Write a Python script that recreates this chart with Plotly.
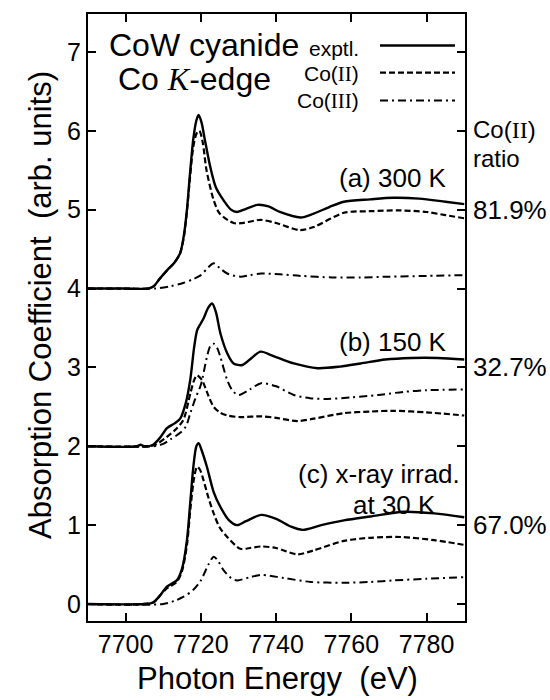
import plotly.graph_objects as go

# ---------------- data ----------------
# x: photon energy (eV); y: absorption coefficient (arb. units, offset per panel)

# (a) 300 K
a_expt_E = [7690, 7700, 7706, 7707.5, 7709, 7711, 7713, 7714.5, 7715.5, 7716.3, 7717.1, 7718, 7718.8, 7719.4, 7720.2, 7721, 7722.5, 7724, 7726, 7728, 7729.6, 7732, 7735, 7738, 7741, 7746.5, 7750, 7754, 7758, 7765, 7771, 7778, 7785, 7790]
a_expt_V = [4.0, 4.0, 4.0, 4.03, 4.12, 4.23, 4.33, 4.45, 4.68, 5.0, 5.45, 5.9, 6.13, 6.2, 6.1, 5.9, 5.54, 5.28, 5.12, 5.0, 4.97, 5.01, 5.06, 5.04, 4.97, 4.90, 4.95, 5.03, 5.10, 5.13, 5.15, 5.14, 5.10, 5.07]
a_co2_E = [7690, 7700, 7706, 7707.5, 7709, 7711, 7713, 7714.5, 7715.5, 7716.3, 7717.1, 7718, 7718.9, 7719.6, 7720.5, 7721.5, 7723.4, 7725, 7728.7, 7731, 7735.9, 7740, 7746.3, 7750, 7758, 7765, 7773, 7780, 7785, 7790]
a_co2_V = [4.0, 4.0, 4.0, 4.03, 4.12, 4.23, 4.33, 4.45, 4.66, 4.98, 5.4, 5.8, 5.97, 6.0, 5.85, 5.5, 5.12, 4.95, 4.83, 4.83, 4.87, 4.83, 4.74, 4.78, 4.96, 4.98, 4.99, 4.97, 4.93, 4.89]
a_co3_E = [7690, 7708, 7712, 7715.3, 7718, 7720, 7722, 7723.4, 7725, 7727, 7730.5, 7733, 7736, 7741, 7746.5, 7755, 7762.5, 7770, 7780, 7790]
a_co3_V = [4.0, 4.0, 4.03, 4.07, 4.12, 4.17, 4.27, 4.32, 4.26, 4.19, 4.15, 4.17, 4.19, 4.18, 4.16, 4.14, 4.14, 4.15, 4.16, 4.17]

# (b) 150 K
b_expt_E = [7690, 7703, 7704, 7705, 7707.3, 7709, 7711, 7713, 7714.5, 7716, 7717.2, 7718.2, 7719, 7720, 7720.7, 7722, 7723, 7724, 7725.2, 7727, 7728.7, 7731, 7733.5, 7735.9, 7739, 7744.7, 7751, 7757, 7762.5, 7769, 7776, 7783, 7790]
b_expt_V = [2.0, 2.0, 2.02, 2.0, 2.02, 2.1, 2.23, 2.29, 2.35, 2.55, 2.85, 3.25, 3.47, 3.56, 3.62, 3.76, 3.81, 3.7, 3.43, 3.18, 3.05, 3.03, 3.12, 3.20, 3.15, 3.05, 2.99, 3.01, 3.05, 3.10, 3.12, 3.12, 3.10]
b_co2_E = [7690, 7707.3, 7709, 7711, 7713, 7715.3, 7717.2, 7718.3, 7719, 7720, 7720.7, 7722, 7723.4, 7725, 7727, 7730.5, 7736, 7740, 7745.6, 7750, 7758, 7765, 7771, 7780, 7790]
b_co2_V = [2.0, 2.01, 2.05, 2.12, 2.2, 2.33, 2.67, 2.85, 2.90, 2.86, 2.80, 2.64, 2.50, 2.43, 2.39, 2.37, 2.38, 2.36, 2.32, 2.35, 2.42, 2.44, 2.45, 2.43, 2.39]
b_co3_E = [7690, 7707.3, 7710, 7712, 7714.5, 7716, 7717.2, 7718.5, 7720, 7721.6, 7722.5, 7723.4, 7724.3, 7725.2, 7727, 7728.5, 7730, 7733, 7736, 7740, 7744.7, 7749, 7753.6, 7760, 7767, 7774, 7780, 7790]
b_co3_V = [2.0, 2.0, 2.03, 2.09, 2.17, 2.25, 2.42, 2.6, 2.78, 3.13, 3.27, 3.30, 3.25, 3.13, 2.84, 2.70, 2.65, 2.72, 2.80, 2.76, 2.65, 2.61, 2.60, 2.62, 2.65, 2.69, 2.71, 2.72]

# (c) x-ray irradiated at 30 K
c_expt_E = [7690, 7705, 7707.3, 7709, 7711, 7713.6, 7715, 7716.3, 7717.2, 7718, 7718.8, 7719.4, 7720.2, 7721.6, 7723.4, 7725.2, 7727.5, 7729.6, 7732, 7736, 7740, 7744, 7747, 7752, 7758, 7765, 7774, 7782, 7790]
c_expt_V = [0.0, 0.0, 0.02, 0.1, 0.22, 0.30, 0.45, 0.81, 1.3, 1.74, 2.0, 2.04, 1.95, 1.74, 1.42, 1.23, 1.06, 1.00, 1.05, 1.13, 1.08, 0.98, 0.94, 1.0, 1.06, 1.11, 1.17, 1.15, 1.10]
c_co2_E = [7690, 7707.3, 7709, 7711, 7713.6, 7715, 7716.3, 7717.2, 7718.2, 7719, 7719.8, 7720.7, 7722, 7723.4, 7725, 7727, 7730.5, 7733, 7736, 7740, 7745.6, 7750, 7758, 7765, 7773, 7782, 7790]
c_co2_V = [0.0, 0.02, 0.1, 0.2, 0.28, 0.42, 0.75, 1.2, 1.6, 1.74, 1.7, 1.57, 1.35, 1.15, 0.97, 0.85, 0.70, 0.71, 0.73, 0.71, 0.63, 0.68, 0.80, 0.84, 0.85, 0.81, 0.75]
c_co3_E = [7690, 7710, 7713, 7715.3, 7718, 7720, 7722, 7723.4, 7724.5, 7726, 7728, 7729.6, 7733, 7736, 7742, 7749.2, 7758, 7765, 7771.3, 7780, 7790]
c_co3_V = [0.0, 0.0, 0.04, 0.09, 0.18, 0.30, 0.50, 0.60, 0.55, 0.43, 0.33, 0.30, 0.34, 0.37, 0.33, 0.28, 0.27, 0.28, 0.30, 0.32, 0.34]

x_ticks = [7700, 7720, 7740, 7760, 7780]
y_ticks = [0, 1, 2, 3, 4, 5, 6, 7]

panel_labels = ["(a) 300 K", "(b) 150 K", "(c) x-ray irrad.", "at 30 K"]
panel_label_x = [7786, 7786, 7789.5, 7783]
panel_label_y = [5.4, 3.32, 1.65, 1.25]

ratio_labels = ["81.9%", "32.7%", "67.0%"]
ratio_y = [5.0, 3.0, 1.0]

# ---------------- styling ----------------
SANS = "Liberation Sans, Arial, Helvetica, sans-serif"
BLACK = "#000000"
SOLID = dict(color=BLACK, width=2.4, dash="solid")
DASH = dict(color=BLACK, width=2.2, dash="6px,3px")
DASHDOT = dict(color=BLACK, width=2.0, dash="8px,4px,2px,4px")

fig = go.Figure()

curves = [
    (a_expt_E, a_expt_V, SOLID), (a_co2_E, a_co2_V, DASH), (a_co3_E, a_co3_V, DASHDOT),
    (b_expt_E, b_expt_V, SOLID), (b_co2_E, b_co2_V, DASH), (b_co3_E, b_co3_V, DASHDOT),
    (c_expt_E, c_expt_V, SOLID), (c_co2_E, c_co2_V, DASH), (c_co3_E, c_co3_V, DASHDOT),
]
for E, V, ln in curves:
    fig.add_trace(go.Scatter(x=E, y=V, mode="lines",
                             line=dict(ln, shape="spline", smoothing=0.8),
                             showlegend=False, hoverinfo="skip"))

axis_common = dict(
    showline=True, linecolor=BLACK, linewidth=2, mirror="ticks",
    ticks="inside", ticklen=8, tickwidth=1.5, tickcolor=BLACK,
    showgrid=False, zeroline=False,
    tickfont=dict(family=SANS, size=25, color=BLACK),
)

fig.update_xaxes(range=[7690, 7790.2], tickvals=x_ticks, **axis_common)
fig.update_yaxes(range=[-0.215, 7.48], tickvals=y_ticks, **axis_common)

PW = 377.0  # plot width px
PH = 607.0  # plot height px
def px(xp):
    return (xp - 88) / PW
def py(yp):
    return (621 - yp) / PH

ann = []
# axis titles
ann.append(dict(text="Photon Energy  (eV)", xref="paper", yref="paper",
                x=px(277), y=py(678), xanchor="center", yanchor="middle",
                showarrow=False, font=dict(family=SANS, size=31, color=BLACK)))
ann.append(dict(text="Absorption Coefficient  (arb. units)", xref="paper", yref="paper",
                x=px(40), y=py(305), xanchor="center", yanchor="middle", textangle=-90,
                showarrow=False, font=dict(family=SANS, size=31, color=BLACK)))

# legend block
roman = lambda s: '<span style="font-family:Liberation Serif, Times New Roman, serif">' + s + '</span>'
ann.append(dict(text="CoW cyanide", xref="paper", yref="paper", x=px(107), y=py(45),
                xanchor="left", yanchor="middle", showarrow=False,
                font=dict(family=SANS, size=32, color=BLACK)))
ann.append(dict(text="Co " + '<span style="font-family:Liberation Serif, Times New Roman, serif"><i>K</i></span>' + "-edge",
                xref="paper", yref="paper", x=px(116), y=py(79),
                xanchor="left", yanchor="middle", showarrow=False,
                font=dict(family=SANS, size=32, color=BLACK)))
ann.append(dict(text="exptl.", xref="paper", yref="paper", x=px(361), y=py(48),
                xanchor="right", yanchor="middle", showarrow=False,
                font=dict(family=SANS, size=21, color=BLACK)))
ann.append(dict(text="Co(" + roman("II") + ")", xref="paper", yref="paper", x=px(361), y=py(74),
                xanchor="right", yanchor="middle", showarrow=False,
                font=dict(family=SANS, size=21, color=BLACK)))
ann.append(dict(text="Co(" + roman("III") + ")", xref="paper", yref="paper", x=px(361), y=py(101),
                xanchor="right", yanchor="middle", showarrow=False,
                font=dict(family=SANS, size=21, color=BLACK)))

shapes = []
for yy, ln in [(45.5, SOLID), (72.6, DASH), (100.5, DASHDOT)]:
    shapes.append(dict(type="line", xref="paper", yref="paper",
                       x0=px(380), x1=px(455), y0=py(yy), y1=py(yy),
                       line=dict(color=BLACK, width=ln["width"], dash=ln["dash"])))

# panel labels
for t, xx, yy in zip(panel_labels, panel_label_x, panel_label_y):
    ann.append(dict(text=t, xref="x", yref="y", x=xx, y=yy, xanchor="right", yanchor="middle",
                    showarrow=False, font=dict(family=SANS, size=26, color=BLACK)))

# right-hand labels
ann.append(dict(text="Co(" + roman("II") + ")", xref="paper", yref="paper", x=px(471), y=py(129),
                xanchor="left", yanchor="middle", showarrow=False,
                font=dict(family=SANS, size=24, color=BLACK)))
ann.append(dict(text="ratio", xref="paper", yref="paper", x=px(471), y=py(158),
                xanchor="left", yanchor="middle", showarrow=False,
                font=dict(family=SANS, size=24, color=BLACK)))
for t, yy in zip(ratio_labels, ratio_y):
    ann.append(dict(text=t, xref="paper", yref="y", x=px(471), y=yy, xanchor="left", yanchor="middle",
                    showarrow=False, font=dict(family=SANS, size=26, color=BLACK)))

fig.update_layout(
    width=550, height=700,
    margin=dict(l=88, r=85, t=14, b=79, pad=0),
    paper_bgcolor="white", plot_bgcolor="white",
    annotations=ann, shapes=shapes,
    showlegend=False,
    font=dict(family=SANS, color=BLACK),
)

fig.write_html("out.html")
